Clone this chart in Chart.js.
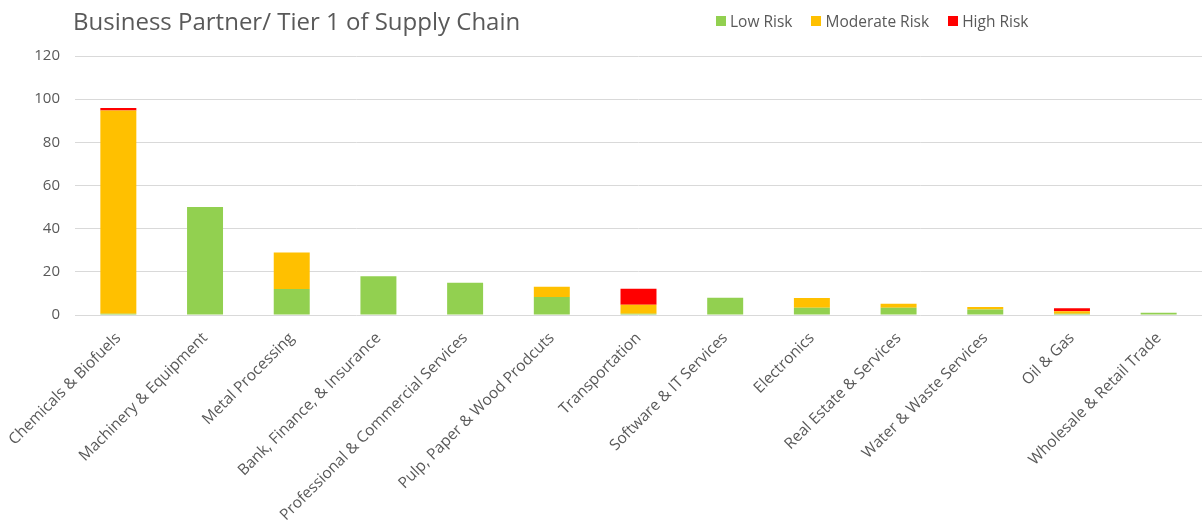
<!DOCTYPE html>
<html>
<head>
<meta charset="utf-8">
<script src="https://cdn.jsdelivr.net/npm/chart.js@4.4.0/dist/chart.umd.min.js"></script>
<style>
    html, body { margin: 0; padding: 0; background: #fff; }
    #wrap { position: relative; width: 1202px; height: 523px; overflow: hidden; font-family: "Open Sans", sans-serif; }
    #title { position: absolute; left: 73px; top: 4px; font-size: 24px; color: #595959; white-space: nowrap; }
    #legend { position: absolute; left: 716px; top: 11px; display: flex; font-size: 15.5px; line-height: 20px; color: #595959; }
    #legend .item { display: flex; align-items: center; margin-right: 19px; }
    #legend .box { width: 10px; height: 10px; margin-right: 4px; }
</style>
</head>
<body>
<div id="wrap">
    <canvas id="chart1"></canvas>
    <div id="title">Business Partner/ Tier 1 of Supply Chain</div>
    <div id="legend"></div>
</div>
<script>
(function() {
    "use strict";

    // categories and values
    var sectors = [
        'Chemicals & Biofuels',
        'Machinery & Equipment',
        'Metal Processing',
        'Bank, Finance, & Insurance',
        'Professional & Commercial Services',
        'Pulp, Paper & Wood Prodcuts',
        'Transportation',
        'Software & IT Services',
        'Electronics',
        'Real Estate & Services',
        'Water & Waste Services',
        'Oil & Gas',
        'Wholesale & Retail Trade'
    ];
    var lowRisk = [0.6, 50, 12, 18, 15, 8.3, 0.6, 8, 3.4, 3.4, 2.5, 0.6, 1];
    var moderateRisk = [94.1, 0, 17, 0, 0, 4.8, 4.2, 0, 4.5, 1.8, 1.2, 1.1, 0];
    var highRisk = [1.2, 0, 0, 0, 0, 0, 7.4, 0, 0, 0, 0, 1.4, 0];
    var yTicks = [0, 20, 40, 60, 80, 100, 120];

    var textColor = '#595959';
    var gridColor = '#d9d9d9';

    var ctx = document.getElementById('chart1').getContext('2d');
    var myChart = new Chart(ctx, {
        type: 'bar',
        data: {
            labels: sectors,
            datasets: [{
                    label: 'Low Risk',
                    data: lowRisk,
                    backgroundColor: '#92d050'
                },
                {
                    label: 'Moderate Risk',
                    data: moderateRisk,
                    backgroundColor: '#ffc000'
                },
                {
                    label: 'High Risk',
                    data: highRisk,
                    backgroundColor: '#ff0000'
                }
            ]
        },
        options: {
            responsive: true,
            maintainAspectRatio: false,
            animation: false,
            barPercentage: 0.415,
            categoryPercentage: 1,
            layout: {
                // plot area runs a little past the right edge, like the cropped original
                padding: { top: 56, right: -6, left: 0, bottom: 0 }
            },
            plugins: {
                legend: { display: false },
                tooltip: { enabled: false }
            },
            scales: {
                x: {
                    stacked: true,
                    grid: { display: false },
                    border: { display: false },
                    ticks: {
                        color: textColor,
                        font: { family: 'Open Sans', size: 15.5 },
                        minRotation: 45,
                        maxRotation: 45,
                        autoSkip: false,
                        padding: 6
                    },
                    afterFit: function(scale) { scale.height = 208; }
                },
                y: {
                    stacked: true,
                    min: 0,
                    max: 120,
                    afterBuildTicks: function(scale) {
                        scale.ticks = yTicks.map(function(v) { return { value: v }; });
                    },
                    grid: { color: gridColor, drawTicks: false },
                    border: { display: false },
                    ticks: {
                        color: textColor,
                        font: { family: 'Open Sans', size: 15 },
                        padding: 15
                    },
                    afterFit: function(scale) { scale.width = 75; }
                }
            }
        }
    });

    // legend built from the chart datasets
    var legendEl = document.getElementById('legend');
    myChart.data.datasets.forEach(function(ds) {
        var item = document.createElement('div');
        item.className = 'item';
        item.innerHTML = '<span class="box" style="background:' + ds.backgroundColor + '"></span>' + ds.label;
        legendEl.appendChild(item);
    });
})();
</script>
</body>
</html>
